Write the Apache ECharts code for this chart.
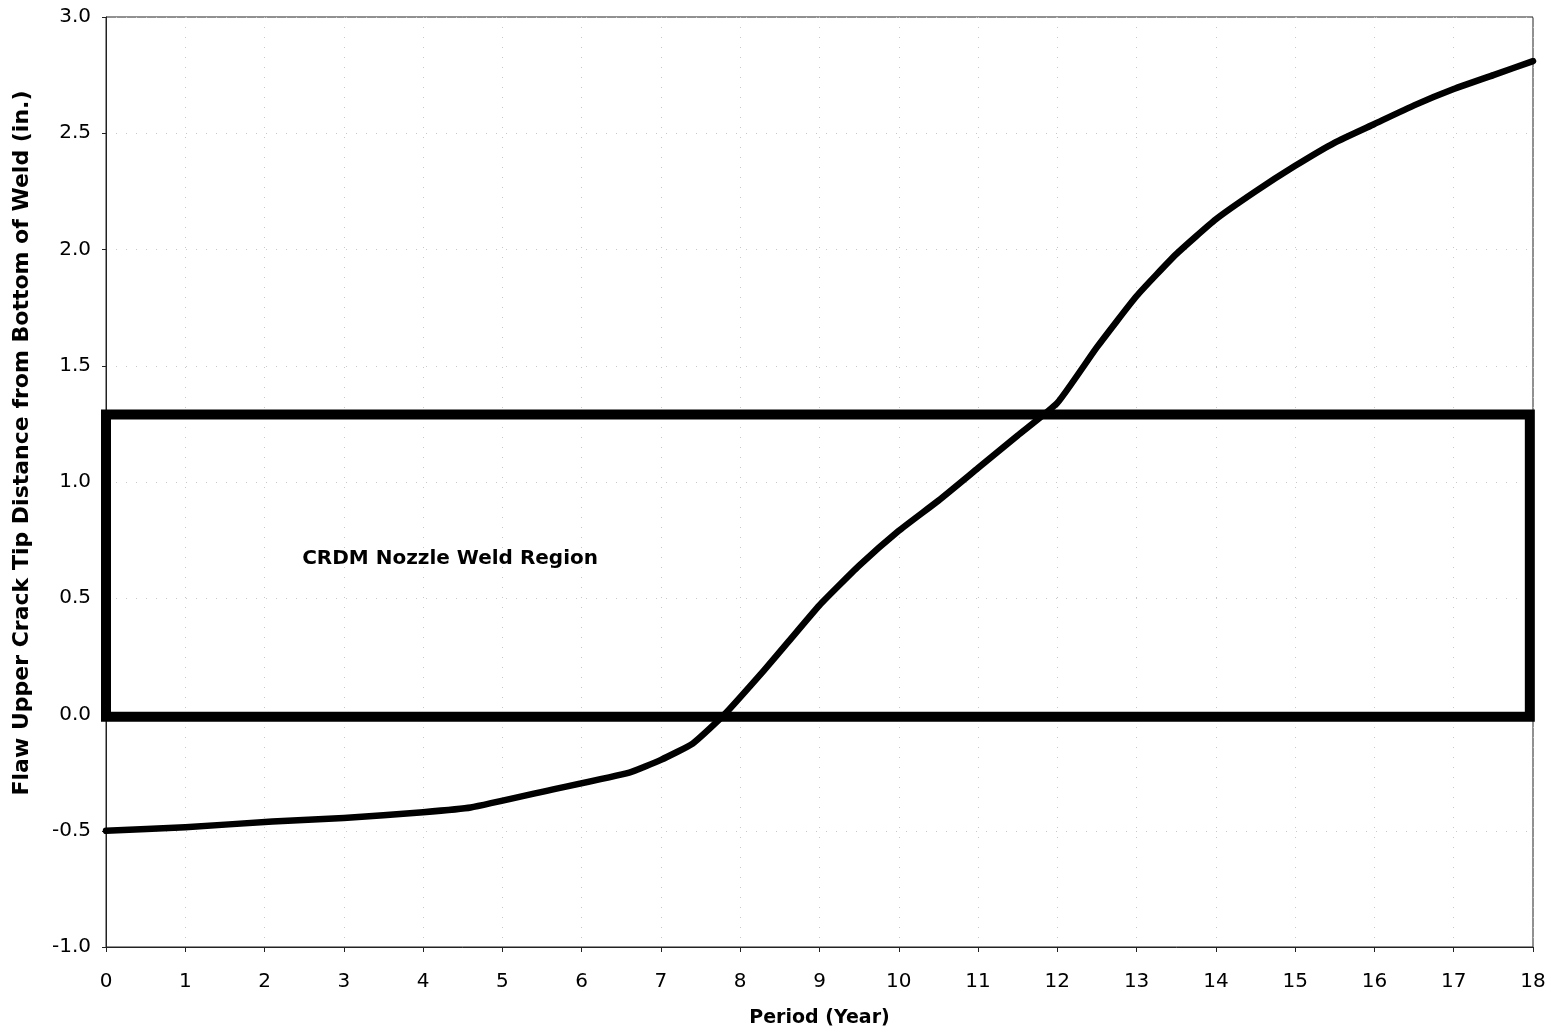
<!DOCTYPE html>
<html>
<head>
<meta charset="utf-8">
<script src="https://cdn.jsdelivr.net/npm/echarts@6/dist/echarts.min.js"></script>
<style>
html,body{margin:0;padding:0;background:#fff;}
#chart{width:1554px;height:1036px;}
</style>
</head>
<body>
<div id="chart"></div>
<script>
// Curve data (Period in years, distance in inches)
const periodYears = [0, 1, 2.1, 3, 4, 4.6, 5.6, 6.6, 7.0, 7.4, 7.8, 8.3, 8.6, 9.0, 9.5, 10.0, 10.5, 11.0, 11.5, 12.0, 12.5, 13.0, 13.5, 14.0, 14.5, 15.0, 15.5, 16.0, 16.5, 17.0, 17.5, 18];
const crackTip =    [-0.50, -0.485, -0.46, -0.445, -0.42, -0.40, -0.325, -0.25, -0.195, -0.125, 0.0, 0.19, 0.31, 0.47, 0.64, 0.79, 0.92, 1.06, 1.20, 1.34, 1.58, 1.80, 1.98, 2.13, 2.25, 2.36, 2.46, 2.54, 2.62, 2.69, 2.75, 2.81];
// Weld region rectangle corners
const rectX = [0, 0, 17.96, 17.96, 0];
const rectY = [-0.01, 1.29, 1.29, -0.01, -0.01];
// Annotation
const regionLabel = 'CRDM Nozzle Weld Region';
const regionLabelPos = [4.34, 0.67];
// Axis texts
const xTitle = 'Period (Year)';
const yTitle = 'Flaw Upper Crack Tip Distance from Bottom of Weld (in.)';

const FONT = '"DejaVu Sans", "Liberation Sans", Arial, sans-serif';
const chart = echarts.init(document.getElementById('chart'), null, {renderer: 'canvas'});
chart.setOption({
  animation: false,
  backgroundColor: '#fff',
  grid: {left: 106, right: 21, top: 17, bottom: 89, show: true, borderColor: '#222', borderWidth: 1, backgroundColor: 'transparent'},
  xAxis: {
    type: 'value', min: 0, max: 18, interval: 1,
    name: xTitle, nameLocation: 'middle', nameGap: 62,
    nameTextStyle: {fontFamily: FONT, fontSize: 19, fontWeight: 'bold', color: '#000'},
    axisLine: {show: true, onZero: false, lineStyle: {color: '#222', width: 1}},
    axisTick: {show: true, length: 5, lineStyle: {color: '#222'}},
    axisLabel: {fontFamily: FONT, fontSize: 20, color: '#000', margin: 25},
    splitLine: {show: true, lineStyle: {color: '#c8c8c8', type: [1, 9], width: 1}}
  },
  yAxis: {
    type: 'value', min: -1, max: 3, interval: 0.5,
    axisLine: {show: true, lineStyle: {color: '#222', width: 1}},
    axisTick: {show: true, length: 4, lineStyle: {color: '#222'}},
    axisLabel: {fontFamily: FONT, fontSize: 20, color: '#000', margin: 15, formatter: v => v.toFixed(1)},
    splitLine: {show: true, lineStyle: {color: '#c8c8c8', type: [1, 9], width: 1}}
  },
  graphic: [{
    type: 'text', x: 22, y: 443, rotation: Math.PI / 2,
    style: {text: yTitle, font: 'bold 22px ' + FONT, fill: '#000', textAlign: 'center', textVerticalAlign: 'middle'}
  }],
  series: [
    {
      type: 'line', data: rectX.map((x, i) => [x, rectY[i]]),
      symbol: 'none', clip: false, z: 3,
      lineStyle: {color: '#000', width: 10, join: 'miter', cap: 'square'}
    },
    {
      type: 'line', data: periodYears.map((x, i) => [x, crackTip[i]]),
      symbol: 'none', smooth: 0.15, z: 4,
      lineStyle: {color: '#000', width: 6.5, join: 'round', cap: 'round'}
    },
    {
      type: 'scatter', data: [regionLabelPos], symbolSize: 0, itemStyle: {color: '#000', opacity: 1},
      label: {show: true, position: [0, 0], align: 'center', verticalAlign: 'middle', formatter: regionLabel, fontFamily: FONT, fontSize: 20, fontWeight: 'bold', color: '#000', opacity: 1, textBorderWidth: 0}, z: 5
    }
  ]
});
</script>
</body>
</html>
